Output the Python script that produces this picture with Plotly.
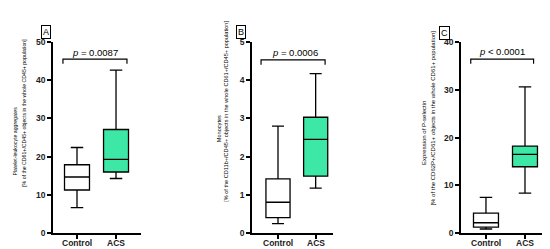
import plotly.graph_objects as go

# box statistics: [Control, ACS]
groups = ["Control", "ACS"]

pla_low = [6.7, 14.3]
pla_q1 = [11.3, 16.0]
pla_med = [14.7, 19.3]
pla_q3 = [17.9, 27.1]
pla_high = [22.4, 42.6]

mono_low = [0.25, 1.18]
mono_q1 = [0.41, 1.49]
mono_med = [0.81, 2.45]
mono_q3 = [1.42, 3.03]
mono_high = [2.80, 4.17]

psel_low = [0.9, 8.4]
psel_q1 = [1.3, 13.9]
psel_med = [2.2, 16.5]
psel_q3 = [4.2, 18.2]
psel_high = [7.5, 30.6]

p_texts = ["<i>p</i> = 0.0087", "<i>p</i> = 0.0006", "<i>p</i> < 0.0001"]
panel_letters = ["A", "B", "C"]
y_max = [50, 5, 40]
y_ticks = [[0, 10, 20, 30, 40, 50], [0, 1, 2, 3, 4, 5], [0, 10, 20, 30, 40]]

W, H = 550, 249
FONT = "Arial, Liberation Sans, sans-serif"
GREEN = "#3DE8A6"

panels = [
    (pla_low, pla_q1, pla_med, pla_q3, pla_high),
    (mono_low, mono_q1, mono_med, mono_q3, mono_high),
    (psel_low, psel_q1, psel_med, psel_q3, psel_high),
]

# pixel layout of each panel
x_dom_px = [(45, 133), (244, 325), (453, 534)]
x_rng = [(-0.615, 1.64), (-0.69, 1.46), (-0.64, 1.436)]
y_dom = [1 - 229.5 / H, 1 - 30 / H]
bracket_x = [(-0.36, 1.28), (-0.45, 1.25), (-0.39, 1.22)]
bracket_y = [(44.25, 45.5), (4.4, 4.53), (35.4, 36.4)]
p_pos = [(0.46, 47.2), (0.45, 4.72), (0.4, 38.0)]
letter_px = [(33, 13), (233, 13), (442, 14)]
xlabel_y_px = 240

y_titles = [
    ("Platelet-leukocyte aggregates", "[% of the CD61+/CD45+ objects in the whole CD45+ population]"),
    ("Monocytes", "[% of the CD11b+/CD45+ objects in the whole CD61+/CD45+ population]"),
    ("Expression of P-selectin", "[% of the CD62P+/CD61+ objects in the whole CD61+ population]"),
]
# (x px, y px center, font size) for line1 / line2
y_title_pos = [
    [(7, 134, 5.2), (16, 104, 5.2)],
    [(211, 120, 5.6), (218, 103, 5.6)],
    [(416, 125, 6.0), (425, 110, 6.0)],
]

fig = go.Figure()
layout = dict(
    width=W, height=H,
    margin=dict(l=0, r=0, t=0, b=0),
    paper_bgcolor="white", plot_bgcolor="white",
    showlegend=False,
    font=dict(family=FONT, color="black"),
)
shapes = []
annotations = []

for i, (low, q1, med, q3, high) in enumerate(panels):
    xa = "x" if i == 0 else f"x{i + 1}"
    ya = "y" if i == 0 else f"y{i + 1}"
    for j, g in enumerate(groups):
        fig.add_trace(go.Box(
            x=[j], q1=[q1[j]], median=[med[j]], q3=[q3[j]],
            lowerfence=[low[j]], upperfence=[high[j]],
            width=0.64, whiskerwidth=0.5,
            fillcolor="white" if j == 0 else GREEN,
            line=dict(color="black", width=1.3),
            boxpoints=False, name=g,
            xaxis=xa, yaxis=ya,
        ))

    x0, x1 = x_dom_px[i]
    key = "" if i == 0 else str(i + 1)
    layout["xaxis" + key] = dict(
        domain=[x0 / W, x1 / W], range=list(x_rng[i]),
        tickvals=[0, 1], showticklabels=False,
        showline=True, linecolor="black", linewidth=1.6,
        ticks="outside", ticklen=4, tickwidth=1.6, tickcolor="black",
        showgrid=False, zeroline=False, anchor=ya,
    )
    layout["yaxis" + key] = dict(
        domain=y_dom, range=[0, y_max[i]], tickvals=y_ticks[i],
        showline=True, linecolor="black", linewidth=1.6,
        ticks="outside", ticklen=4, tickwidth=1.6, tickcolor="black",
        showgrid=False, zeroline=False, anchor=xa,
        tickfont=dict(size=8.5, family=FONT, weight="bold", color="#222"),
    )

    # category labels under the x axis
    for j, g in enumerate(groups):
        annotations.append(dict(
            x=j, y=1 - xlabel_y_px / H, xref=xa, yref="paper",
            text=g, showarrow=False, yanchor="middle",
            font=dict(size=8.5, family=FONT, weight="bold", color="#222"),
        ))

    # significance bracket
    bx0, bx1 = bracket_x[i]
    by0, by1 = bracket_y[i]
    shapes.append(dict(
        type="path", xref=xa, yref=ya,
        path=f"M {bx0},{by0} L {bx0},{by1} L {bx1},{by1} L {bx1},{by0}",
        line=dict(color="black", width=1.2),
    ))
    annotations.append(dict(
        x=p_pos[i][0], y=p_pos[i][1], xref=xa, yref=ya,
        text=p_texts[i], showarrow=False,
        font=dict(size=9.5, family=FONT, color="black"),
    ))

    # panel letter in a box
    lx, ly = letter_px[i]
    annotations.append(dict(
        x=lx / W, y=1 - ly / H, xref="paper", yref="paper",
        text=panel_letters[i], showarrow=False,
        font=dict(size=9, family=FONT, color="black"),
        bordercolor="black", borderwidth=1, borderpad=1,
    ))

    # y axis title, two lines
    for line_text, (tx, ty, fs) in zip(y_titles[i], y_title_pos[i]):
        annotations.append(dict(
            x=tx / W, y=1 - ty / H, xref="paper", yref="paper",
            text=line_text, showarrow=False, textangle=-90,
            xanchor="center", yanchor="middle",
            font=dict(size=fs, family=FONT, color="black"),
        ))

layout["shapes"] = shapes
layout["annotations"] = annotations
fig.update_layout(**layout)

fig.write_html("out.html")
